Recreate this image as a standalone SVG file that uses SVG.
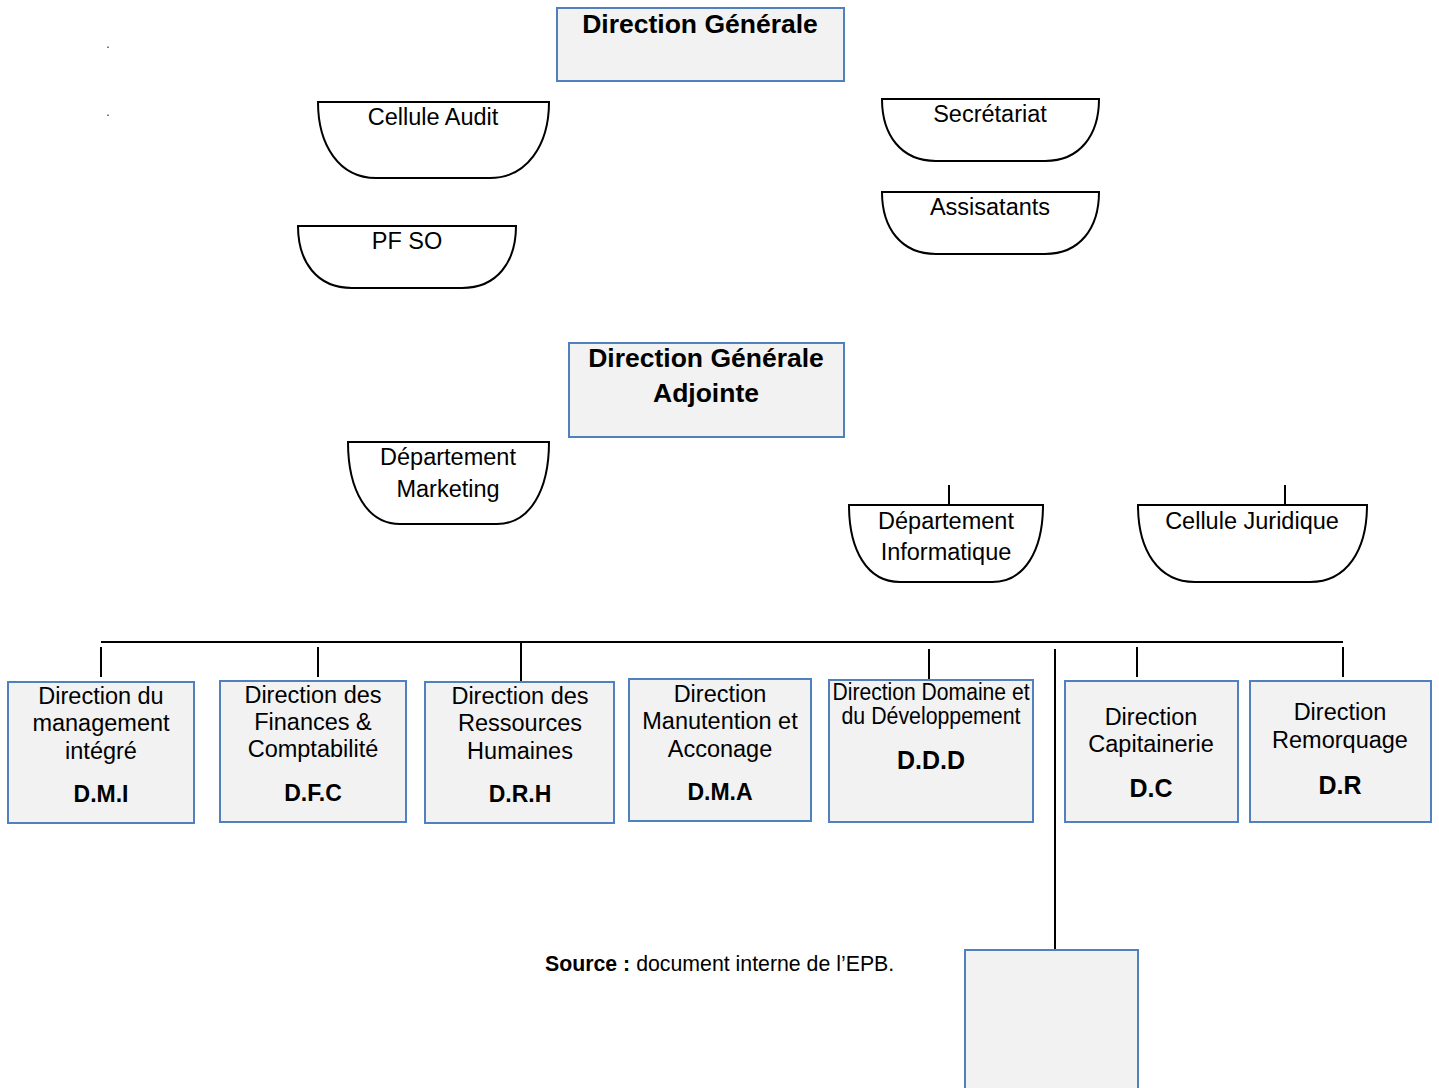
<svg xmlns="http://www.w3.org/2000/svg" width="1439" height="1088" viewBox="0 0 1439 1088">
<style>
text{font-family:"Liberation Sans",Arial,sans-serif;fill:#000}
.t{font-size:23.5px;text-anchor:middle}
.b{font-weight:bold;text-anchor:middle}
.box{fill:#f2f2f2;stroke:#4f81bd;stroke-width:2}
.bowl{fill:#fff;stroke:#000;stroke-width:2}
.ln{stroke:#000;stroke-width:2;fill:none}
</style>
<rect width="1439" height="1088" fill="#fff"/>
<rect x="107.5" y="46.5" width="1" height="1.5" fill="#000"/>
<rect x="107.5" y="114.5" width="1" height="1.5" fill="#000"/>

<g id="connectors">
<line class="ln" x1="949" y1="485" x2="949" y2="505"/>
<line class="ln" x1="1285" y1="485" x2="1285" y2="505"/>
<line class="ln" x1="101" y1="642" x2="1343" y2="642"/>
<line class="ln" x1="101" y1="647" x2="101" y2="677"/>
<line class="ln" x1="318" y1="647" x2="318" y2="677"/>
<line class="ln" x1="521" y1="642" x2="521" y2="682"/>
<line class="ln" x1="929" y1="649" x2="929" y2="679"/>
<line class="ln" x1="1055" y1="649" x2="1055" y2="950"/>
<line class="ln" x1="1137" y1="647" x2="1137" y2="677"/>
<line class="ln" x1="1343" y1="647" x2="1343" y2="677"/>
</g>

<g id="dg">
<rect class="box" x="557" y="8" width="287" height="73"/>
<text class="b" x="700" y="33" font-size="26.5">Direction Générale</text>
</g>

<g id="cellule-audit">
<path class="bowl" d="M318,102 H549 C549,145 527,178 490,178 H376 C339,178 318,145 318,102 Z"/>
<text class="t" x="433" y="125">Cellule Audit</text>
</g>

<g id="pf-so">
<path class="bowl" d="M298,226 H516 C516,262 497,288 462,288 H352 C317,288 298,262 298,226 Z"/>
<text class="t" x="407" y="249">PF SO</text>
</g>

<g id="secretariat">
<path class="bowl" d="M882,99 H1099 C1099,135 1080,161 1045,161 H936 C901,161 882,135 882,99 Z"/>
<text class="t" x="990" y="122">Secrétariat</text>
</g>

<g id="assistants">
<path class="bowl" d="M882,192 H1099 C1099,228 1080,254 1045,254 H936 C901,254 882,228 882,192 Z"/>
<text class="t" x="990" y="215">Assisatants</text>
</g>

<g id="dga">
<rect class="box" x="569" y="343" width="275" height="94"/>
<text class="b" x="706" y="367" font-size="26.5">Direction Générale</text>
<text class="b" x="706" y="402" font-size="26.5">Adjointe</text>
</g>

<g id="dep-marketing">
<path class="bowl" d="M348,442 H549 C549,490 530,524 497,524 H400 C367,524 348,490 348,442 Z"/>
<text class="t" x="448" y="465">Département</text>
<text class="t" x="448" y="497">Marketing</text>
</g>

<g id="dep-informatique">
<path class="bowl" d="M849,505 H1043 C1043,550 1025,582 992,582 H900 C867,582 849,550 849,505 Z"/>
<text class="t" x="946" y="529">Département</text>
<text class="t" x="946" y="560">Informatique</text>
</g>

<g id="cellule-juridique">
<path class="bowl" d="M1138,505 H1367 C1367,550 1347,582 1310,582 H1195 C1158,582 1138,550 1138,505 Z"/>
<text class="t" x="1252" y="529">Cellule Juridique</text>
</g>

<g id="dmi">
<rect class="box" x="8" y="682" width="186" height="141"/>
<text class="t" x="101" y="704">Direction du</text>
<text class="t" x="101" y="731">management</text>
<text class="t" x="101" y="759">intégré</text>
<text class="b" x="101" y="802" font-size="23">D.M.I</text>
</g>

<g id="dfc">
<rect class="box" x="220" y="681" width="186" height="141"/>
<text class="t" x="313" y="703">Direction des</text>
<text class="t" x="313" y="730">Finances &amp;</text>
<text class="t" x="313" y="757">Comptabilité</text>
<text class="b" x="313" y="801" font-size="23">D.F.C</text>
</g>

<g id="drh">
<rect class="box" x="425" y="682" width="189" height="141"/>
<text class="t" x="520" y="704">Direction des</text>
<text class="t" x="520" y="731">Ressources</text>
<text class="t" x="520" y="759">Humaines</text>
<text class="b" x="520" y="802" font-size="23">D.R.H</text>
</g>

<g id="dma">
<rect class="box" x="629" y="679" width="182" height="142"/>
<text class="t" x="720" y="702">Direction</text>
<text class="t" x="720" y="729">Manutention et</text>
<text class="t" x="720" y="757">Acconage</text>
<text class="b" x="720" y="800" font-size="23">D.M.A</text>
</g>

<g id="ddd">
<rect class="box" x="829" y="680" width="204" height="142"/>
<text class="t" x="931" y="700" font-size="20" textLength="197" lengthAdjust="spacingAndGlyphs">Direction Domaine et</text>
<text class="t" x="931" y="724" font-size="20" textLength="179" lengthAdjust="spacingAndGlyphs">du Développement</text>
<text class="b" x="931" y="769" font-size="25">D.D.D</text>
</g>

<g id="dc">
<rect class="box" x="1065" y="681" width="173" height="141"/>
<text class="t" x="1151" y="725">Direction</text>
<text class="t" x="1151" y="752">Capitainerie</text>
<text class="b" x="1151" y="797" font-size="25">D.C</text>
</g>

<g id="dr">
<rect class="box" x="1250" y="681" width="181" height="141"/>
<text class="t" x="1340" y="720">Direction</text>
<text class="t" x="1340" y="748">Remorquage</text>
<text class="b" x="1340" y="794" font-size="25">D.R</text>
</g>

<g id="empty-box">
<rect class="box" x="965" y="950" width="173" height="150"/>
</g>

<text x="545" y="971" font-size="21.3"><tspan font-weight="bold">Source :</tspan> document interne de l’EPB.</text>
</svg>
